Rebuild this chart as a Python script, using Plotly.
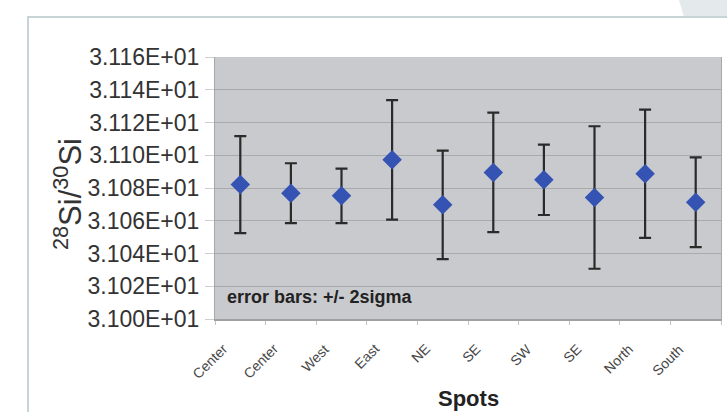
import plotly.graph_objects as go

spots = ["Center", "Center", "West", "East", "NE", "SE", "SW", "SE", "North", "South"]
ratio = [31.0821, 31.0768, 31.0752, 31.0972, 31.0697, 31.0895, 31.0850, 31.0742, 31.0887, 31.0713]
two_sigma = [0.0296, 0.0183, 0.0166, 0.0365, 0.0331, 0.0365, 0.0215, 0.0435, 0.0392, 0.0274]
y_ticks = [31.00, 31.02, 31.04, 31.06, 31.08, 31.10, 31.12, 31.14, 31.16]
y_ticktext = ["3.100E+01", "3.102E+01", "3.104E+01", "3.106E+01", "3.108E+01",
              "3.110E+01", "3.112E+01", "3.114E+01", "3.116E+01"]

W, H = 727, 412
L, R, T, B = 215, 6, 57, 93
pw, ph = W - L - R, H - T - B


def px(x):
    return (x - L) / pw


def py(y):
    return (H - B - y) / ph


xs = list(range(len(spots)))
bounds = [i - 0.5 for i in range(len(spots) + 1)]

fig = go.Figure()
fig.add_trace(go.Scatter(
    x=xs, y=ratio, mode="markers",
    marker=dict(symbol="diamond", size=15, color="#3553b3",
                line=dict(width=0)),
    error_y=dict(type="data", array=two_sigma, visible=True,
                 color="#2a2a2a", thickness=2.2, width=6),
    showlegend=False,
))

annotations = [
    dict(text=name, xref="x", yref="paper", x=i - 0.13, y=py(338),
         textangle=-45, showarrow=False, xanchor="right", yanchor="top",
         font=dict(size=14, color="#474747"))
    for i, name in enumerate(spots)
]
annotations += [
    dict(text="<sup>28</sup>Si/<sup>30</sup>Si", xref="paper", yref="paper",
         x=px(68), y=py(194), textangle=-90, showarrow=False,
         font=dict(size=31, color="#333333"), xanchor="center", yanchor="middle"),
    dict(text="<b>error bars: +/- 2sigma</b>", xref="paper", yref="paper",
         x=px(225), y=py(297), showarrow=False, xanchor="left", yanchor="middle",
         font=dict(size=18, color="#222222")),
    dict(text="<b>Spots</b>", xref="paper", yref="paper",
         x=px(468), y=py(398), showarrow=False, xanchor="center", yanchor="middle",
         font=dict(size=22, color="#222222")),
]

fig.update_layout(
    width=W, height=H,
    margin=dict(l=L, r=R, t=T, b=B, autoexpand=False),
    paper_bgcolor="white",
    plot_bgcolor="#c9cacd",
    font=dict(family="Liberation Sans, Arial, sans-serif", color="#333333"),
    xaxis=dict(
        range=[-0.5, len(spots) - 0.5],
        tickmode="array", tickvals=bounds, ticktext=[""] * len(bounds),
        showgrid=False, zeroline=False,
        showline=True, linecolor="#a0a0a0", linewidth=1.5,
        ticks="outside", ticklen=4, tickcolor="#c4c4c4",
        mirror=False, automargin=False,
    ),
    yaxis=dict(
        range=[31.00, 31.16],
        tickmode="array", tickvals=y_ticks, ticktext=y_ticktext,
        tickfont=dict(size=23, color="#333333"),
        showgrid=True, gridcolor="#a9aaad", gridwidth=1,
        zeroline=False,
        showline=True, linecolor="#a8a8a8", linewidth=1,
        ticks="outside", ticklen=9, tickcolor="#cfcfcf",
        ticklabelstandoff=1,
        mirror=True, automargin=False,
    ),
    annotations=annotations,
    shapes=[
        dict(type="path", xref="paper", yref="paper",
             path=f"M {px(679)} {py(0)} L {px(727)} {py(0)} L {px(727)} {py(17)} L {px(684)} {py(17)} Z",
             fillcolor="#e4eaec", line=dict(width=0), layer="below"),
        dict(type="line", xref="paper", yref="paper",
             x0=px(27), x1=px(727), y0=py(17), y1=py(17),
             line=dict(color="#c6d4d8", width=2)),
        dict(type="line", xref="paper", yref="paper",
             x0=px(28), x1=px(28), y0=py(17), y1=py(412),
             line=dict(color="#c6d4d8", width=2)),
    ],
)

fig.write_html("out.html", config={"displayModeBar": False},
               post_script="document.body.style.margin='0';document.body.style.overflow='hidden';")
